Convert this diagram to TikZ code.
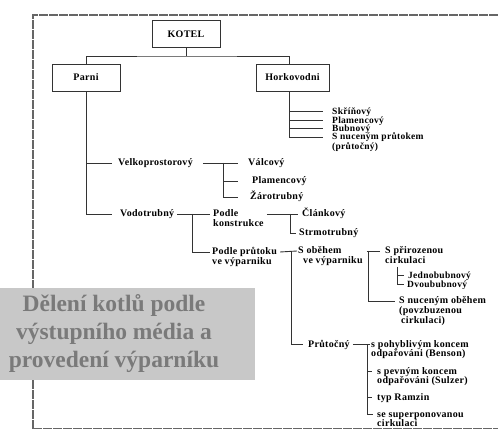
\documentclass[tikz,border=0pt]{standalone}
\usepackage{fontspec}
\setmainfont{Liberation Serif}
\newfontfamily\scanfont[LetterSpace=3]{Liberation Serif}
\usetikzlibrary{calc}
\definecolor{panel}{RGB}{200,200,200}
\definecolor{paneltext}{RGB}{122,122,122}
% several lines, baseline = first line
\newcommand{\labtext}[1]{\begin{tabular}[t]{@{}l@{}}#1\end{tabular}}

\begin{document}
\begin{tikzpicture}[x=1pt,y=-1pt]
          \tikzstyle{every node}+=[inner sep=0pt]
          \tikzstyle{box}=[draw=black!80, line width=0.9pt, minimum height=27pt, font=\scanfont\bfseries\fontsize{10}{10}\selectfont]
          \tikzstyle{lab}=[anchor=base west, font=\scanfont\bfseries\fontsize{10}{9}\selectfont]
          \tikzstyle{tight}=[font=\scanfont\bfseries\fontsize{9.5}{8.5}\selectfont]
          \tikzstyle{tree}=[line width=0.9pt, black!80]
          \tikzstyle{frame}=[line width=1.1pt, black!60, dash pattern=on 9pt off 1pt]
          \useasboundingbox (0,0) rectangle (498,430);
          % scanned page border
          \draw [frame] (498,15) -- (33,15) -- (33,430);
          \draw [frame] (33,428.5) -- (498,428.5);
          % boxes
          \node [box, minimum width=68pt] (kotel) at (186,34) {KOTEL};
          \node [box, minimum width=68pt] (parni) at (86,77.5) {Parni};
          \node [box, minimum width=73pt] (horko) at (292.5,77.5) {Horkovodni};
          \coordinate (jtop) at (186,56);
          \coordinate (hn) at ([xshift=-3.5pt]horko.north);
          \coordinate (hs) at ([xshift=-3.5pt]horko.south);
          % labels (base of first line)
          \node [lab, tight] (skrin) at (332,114.5) {Skříňový};
          \node [lab, tight] (plam1) at (332,123.5) {Plamencový};
          \node [lab, tight] (bubn) at (332,131.5) {Bubnový};
          \node [lab, tight] (nucpr) at (332,140) {\labtext{S nuceným průtokem\\(průtočný)}};
          \node [lab] (velko) at (118,166) {Velkoprostorový};
          \node [lab] (valc) at (248,166) {Válcový};
          \node [lab] (plam2) at (252,184) {Plamencový};
          \node [lab] (zaro) at (250,200) {Žárotrubný};
          \node [lab] (vodo) at (120,217) {Vodotrubný};
          \node [lab] (podk) at (213,217) {\labtext{Podle\\konstrukce}};
          \node [lab] (clan) at (302,217) {Článkový};
          \node [lab] (strm) at (299,236) {Strmotrubný};
          \node [lab] (podp) at (212,255) {\labtext{Podle průtoku\\ve výparniku}};
          \node [lab] (obeh) at (298,254) {\labtext{S oběhem\\\hspace{5pt}ve výparniku}};
          \node [lab] (priro) at (385,254) {\labtext{S přirozenou\\cirkulaci}};
          \node [lab, tight] (jedno) at (408,278.5) {Jednobubnový};
          \node [lab, tight] (dvou) at (407,287.5) {Dvoububnový};
          \node [lab] (nucob) at (399,304) {\labtext{S nuceným oběhem\\(povzbuzenou\\\hspace{2pt}cirkulaci)}};
          \node [lab] (prut) at (308,347) {Průtočný};
          \node [lab] (benson) at (371,347) {\labtext{s pohyblivým koncem\\odpařováni (Benson)}};
          \node [lab] (sulzer) at (377,374) {\labtext{s pevným koncem\\odpařováni (Sulzer)}};
          \node [lab] (ramzin) at (377,400) {typ Ramzin};
          \node [lab] (superp) at (377,417) {\labtext{se superponovanou\\cirkulaci}};
          % junctions
          \coordinate (jv) at (223,163);
          \coordinate (jvo) at (192,214);
          \coordinate (jk) at (290,214);
          \coordinate (jp) at (291,252);
          \coordinate (jo) at (368,251);
          \coordinate (jpr) at (397,267);
          \coordinate (jpt) at (367,344);
          % connectors
          \draw [tree] (kotel.south) -- (jtop);
          \draw [tree] (parni.north) |- (jtop) -| (hn);
          \foreach \n in {skrin,plam1,bubn,nucpr}
            \draw [tree] (hs) |- ([shift={(-9,-3)}]\n.base west);
          \draw [tree] (parni.south) |- ([shift={(-6,-3)}]velko.base west);
          \draw [tree] (parni.south) |- ([shift={(-8,-3)}]vodo.base west);
          \draw [tree] ([shift={(10,-3)}]velko.base east) -- ([shift={(-10,-3)}]valc.base west);
          \draw [tree] (jv) |- ([shift={(-14,-3)}]plam2.base west);
          \draw [tree] (jv) |- ([shift={(-12,-3)}]zaro.base west);
          \draw [tree] ([shift={(3,-3)}]vodo.base east) -- ([shift={(-3,-3)}]podk.base west);
          \draw [tree] (jvo) |- ([shift={(-2,-3)}]podp.base west);
          \draw [tree] ([shift={(3,-3)}]podk.base east) -- ([shift={(-4,-3)}]clan.base west);
          \draw [tree] (jk) |- ([shift={(-3,-3)}]strm.base west);
          \draw [tree] ([shift={(3,-3)}]podp.base east) -- ([shift={(-1,-3)}]obeh.base west);
          \draw [tree] (jp) |- ([shift={(-5,-3)}]prut.base west);
          \draw [tree] ([shift={(4,-3)}]obeh.base east) -- ([shift={(-5,-3)}]priro.base west);
          \draw [tree] (jo) |- ([shift={(-4,-3)}]nucob.base west);
          \draw [tree] (jpr) |- ([shift={(-4,-3)}]jedno.base west);
          \draw [tree] (jpr) |- ([shift={(-3,-3)}]dvou.base west);
          \draw [tree] ([shift={(3,-3)}]prut.base east) -- ([shift={(-1,-3)}]benson.base west);
          \draw [tree] (jpt) |- ([shift={(-5,-3)}]sulzer.base west);
          \draw [tree] (jpt) |- ([shift={(-5,-3)}]ramzin.base west);
          \draw [tree] (jpt) |- ([shift={(-4,-3)}]superp.base west);
          % caption panel
          \fill [panel] (0,288) rectangle (255,380);
          \node [font=\bfseries\fontsize{23.5}{28}\selectfont, text=paneltext, align=center] (title) at (114,334) {Dělení kotlů podle\\výstupního média a\\provedení výparníku};
\end{tikzpicture}
\end{document}
